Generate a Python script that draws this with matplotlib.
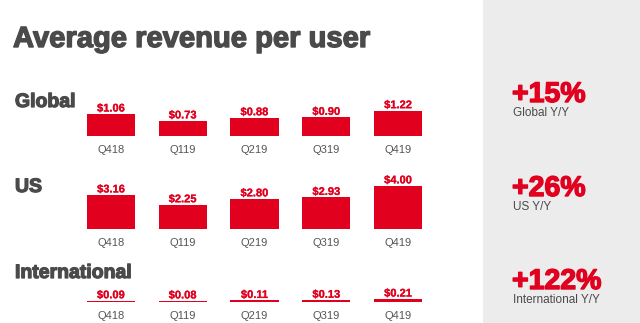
import matplotlib
matplotlib.use("Agg")
import matplotlib.pyplot as plt
from matplotlib.patches import Rectangle
from matplotlib import font_manager
import matplotlib.patheffects as pe

# ---- data ----
quarters = ["Q418", "Q119", "Q219", "Q319", "Q419"]
global_arpu = [1.06, 0.73, 0.88, 0.90, 1.22]
us_arpu = [3.16, 2.25, 2.80, 2.93, 4.00]
intl_arpu = [0.09, 0.08, 0.11, 0.13, 0.21]
section_names = ["Global", "US", "International"]
yoy_values = ["+15%", "+26%", "+122%"]
yoy_labels = ["Global Y/Y", "US Y/Y", "International Y/Y"]
title = "Average revenue per user"

RED = "#e1001e"
DARK = "#4a4a4a"
TICK = "#555555"
FONT = "Liberation Sans"

installed = {f.name for f in font_manager.fontManager.ttflist}
NARROW = "Liberation Sans Narrow" if "Liberation Sans Narrow" in installed else None

W, H = 640, 323
fig = plt.figure(figsize=(W / 100, H / 100), dpi=100)
fig.patch.set_facecolor("white")


def fx(x):
    return x / W


def fy(y):
    return 1 - y / H


def heavy(color, lw):
    return [pe.withStroke(linewidth=lw, foreground=color)]


# grey side panel
fig.patches.append(Rectangle((fx(483), 0), 1 - fx(483), 1, transform=fig.transFigure,
                             facecolor="#ececec", edgecolor="none", zorder=0))

if NARROW:
    fig.text(fx(14), fy(47), title, fontsize=24.5, fontweight="bold", color=DARK,
             family=NARROW, va="baseline", ha="left", path_effects=heavy(DARK, 1.3))
else:
    fig.text(fx(13), fy(47), title, fontsize=21, fontweight="bold", color=DARK,
             family=FONT, va="baseline", ha="left", path_effects=heavy(DARK, 1.0))

panels = [
    # values, baseline px, px per dollar, height px, label baseline
    (global_arpu, 136, 20.8, 40, 107),
    (us_arpu, 229, 10.8, 50, 192),
    (intl_arpu, 302, 14.5, 20, 278),
]

left_px, width_px = 75, 359
for (vals, base, scale, hpx, lab_y), name in zip(panels, section_names):
    ax = fig.add_axes([fx(left_px), fy(base), width_px / W, hpx / H])
    x = range(len(quarters))
    bars = ax.bar(x, vals, width=0.67, color=RED, edgecolor="none")
    ax.set_xlim(-0.5, len(quarters) - 0.5)
    ax.set_ylim(0, hpx / scale)
    ax.set_xticks(list(x))
    ax.set_xticklabels(quarters, fontsize=8, color=TICK, family=FONT)
    ax.tick_params(axis="x", length=0, pad=6.5)
    ax.set_yticks([])
    for s in ax.spines.values():
        s.set_visible(False)
    ax.patch.set_alpha(0)
    for b, v in zip(bars, vals):
        ax.annotate(f"${v:.2f}", (b.get_x() + b.get_width() / 2, v),
                    xytext=(0, 0.3), textcoords="offset points",
                    ha="center", va="bottom", fontsize=8, fontweight="bold",
                    color=RED, family=FONT, path_effects=heavy(RED, 0.15))
    fig.text(fx(15), fy(lab_y), name, fontsize=14, fontweight="bold", color=DARK,
             family=FONT, va="baseline", ha="left", path_effects=heavy(DARK, 0.9))

yoy_pos = [(102, 116), (196, 210), (289, 303)]
for (vy, ly), val, lab in zip(yoy_pos, yoy_values, yoy_labels):
    fig.text(fx(512), fy(vy), val, fontsize=20.5, fontweight="bold", color=RED,
             family=FONT, va="baseline", ha="left", path_effects=heavy(RED, 1.0))
    fig.text(fx(513), fy(ly), lab, fontsize=8.5, color=DARK,
             family=FONT, va="baseline", ha="left")

fig.savefig("out.png", dpi=100)
